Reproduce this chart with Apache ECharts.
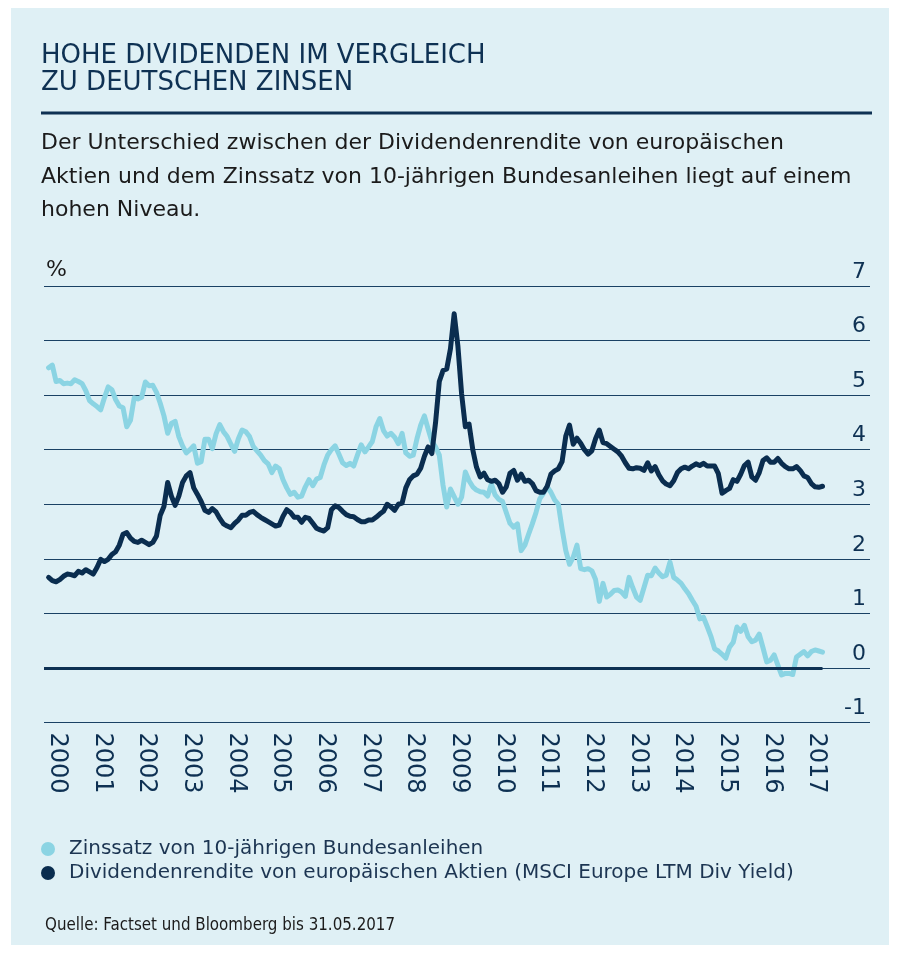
<!DOCTYPE html>
<html><head><meta charset="utf-8">
<script src="https://cdn.jsdelivr.net/npm/echarts@6/dist/echarts.min.js"></script>
<style>
html,body{margin:0;padding:0;background:#ffffff;}
#panel{position:absolute;left:11px;top:8px;width:878px;height:937px;background:#dff0f5;}
#c{position:absolute;left:0;top:0;width:901px;height:953px;}
</style>
</head><body><div id="panel"></div><div id="c"></div>
<script>
// monthly values (month-end), starting January 2000, ending May 2017
const startYear = 2000;
const bundYield = [
5.50,5.55,5.25,5.27,5.21,5.22,5.21,5.28,5.25,5.21,5.08,4.90,
4.84,4.79,4.73,4.95,5.15,5.10,4.92,4.80,4.77,4.42,4.54,4.95,
4.93,4.96,5.24,5.17,5.18,5.05,4.85,4.62,4.30,4.48,4.52,4.24,
4.07,3.94,4.00,4.07,3.75,3.78,4.19,4.19,4.02,4.29,4.46,4.33,
4.24,4.10,3.97,4.20,4.36,4.33,4.24,4.06,3.98,3.90,3.80,3.74,
3.58,3.70,3.65,3.45,3.30,3.18,3.22,3.13,3.15,3.32,3.45,3.34,
3.46,3.49,3.72,3.90,4.00,4.07,3.92,3.76,3.71,3.75,3.70,3.90,
4.09,3.96,4.05,4.15,4.42,4.57,4.35,4.25,4.30,4.23,4.11,4.30,
3.94,3.88,3.90,4.20,4.45,4.62,4.38,4.15,4.05,3.90,3.35,2.95,
3.28,3.14,3.00,3.13,3.59,3.43,3.32,3.26,3.23,3.22,3.15,3.37,
3.17,3.09,3.05,2.85,2.65,2.58,2.64,2.15,2.25,2.45,2.64,2.85,
3.10,3.20,3.32,3.22,3.08,3.00,2.55,2.15,1.90,2.03,2.25,1.82,
1.80,1.82,1.78,1.62,1.22,1.55,1.30,1.35,1.42,1.43,1.39,1.31,
1.66,1.47,1.30,1.24,1.47,1.70,1.69,1.83,1.74,1.67,1.70,1.94,
1.66,1.61,1.55,1.45,1.36,1.24,1.13,0.90,0.93,0.76,0.58,0.35,
0.31,0.25,0.18,0.38,0.47,0.75,0.67,0.78,0.57,0.48,0.51,0.62,
0.37,0.11,0.14,0.24,0.05,-0.13,-0.10,-0.10,-0.12,0.20,0.25,0.30,
0.22,0.30,0.33,0.31,0.29
];
const divYield = [
1.66,1.60,1.58,1.62,1.68,1.72,1.71,1.69,1.77,1.74,1.80,1.76,
1.72,1.84,1.99,1.95,1.99,2.08,2.13,2.25,2.45,2.48,2.38,2.32,
2.30,2.34,2.30,2.26,2.30,2.42,2.80,2.96,3.40,3.15,2.98,3.15,
3.40,3.52,3.58,3.30,3.18,3.05,2.89,2.85,2.92,2.86,2.74,2.64,
2.60,2.57,2.65,2.71,2.80,2.80,2.85,2.87,2.81,2.76,2.72,2.68,
2.64,2.60,2.62,2.78,2.90,2.85,2.76,2.76,2.67,2.76,2.74,2.65,
2.56,2.53,2.51,2.57,2.90,2.97,2.94,2.87,2.81,2.78,2.77,2.72,
2.68,2.68,2.71,2.71,2.76,2.82,2.87,3.00,2.95,2.89,3.00,3.02,
3.30,3.45,3.52,3.55,3.66,3.88,4.05,3.93,4.50,5.25,5.45,5.48,
5.85,6.49,5.90,5.02,4.42,4.47,4.00,3.68,3.50,3.57,3.45,3.42,
3.44,3.38,3.22,3.32,3.57,3.62,3.44,3.55,3.42,3.44,3.38,3.25,
3.22,3.22,3.33,3.55,3.61,3.65,3.78,4.25,4.45,4.10,4.21,4.12,
4.00,3.92,3.98,4.20,4.36,4.13,4.11,4.06,4.01,3.96,3.88,3.76,
3.66,3.65,3.67,3.66,3.62,3.76,3.61,3.69,3.54,3.43,3.37,3.34,
3.43,3.58,3.65,3.68,3.65,3.70,3.74,3.71,3.75,3.70,3.70,3.70,
3.56,3.20,3.25,3.29,3.45,3.42,3.55,3.71,3.77,3.50,3.44,3.58,
3.80,3.85,3.77,3.77,3.84,3.75,3.69,3.65,3.65,3.69,3.62,3.52,
3.49,3.38,3.32,3.31,3.33
];
const yearLabels = [2000,2001,2002,2003,2004,2005,2006,2007,2008,2009,2010,2011,2012,2013,2014,2015,2016,2017];
const yMin = -1, yMax = 7;
const seriesNames = ['Zinssatz von 10-jährigen Bundesanleihen','Dividendenrendite von europäischen Aktien (MSCI Europe LTM Div Yield)'];
const titleText = 'HOHE DIVIDENDEN IM VERGLEICH\nZU DEUTSCHEN ZINSEN';
const subtitleText = 'Der Unterschied zwischen der Dividendenrendite von europäischen\nAktien und dem Zinssatz von 10-jährigen Bundesanleihen liegt auf einem\nhohen Niveau.';
const sourceText = 'Quelle: Factset und Bloomberg bis 31.05.2017';

const monthX = i => startYear + (i + 1) / 12;
const bundData = bundYield.map((v, i) => [monthX(i), v]);
const divData = divYield.map((v, i) => [monthX(i), v]);
const xMin = 1999.98, xMax = 2018.48;
const lastX = monthX(divYield.length - 1);

const NAVY = '#0e3153';
const LIGHT = '#8bd4e3';
const FONT = '"DejaVu Sans", sans-serif';

const chart = echarts.init(document.getElementById('c'), null, {renderer: 'canvas'});
chart.setOption({
  animation: false,
  backgroundColor: 'transparent',
  grid: {left: 44, right: 31, top: 286, bottom: 230.5, containLabel: false},
  xAxis: [
    {type: 'value', min: xMin, max: xMax, show: false},
    {type: 'value', min: 1999.7, max: 2018.2, interval: 0.1, position: 'bottom',
     axisLine: {show: false}, axisTick: {show: false}, splitLine: {show: false},
     axisLabel: {rotate: -90, margin: 10, fontSize: 24, color: NAVY, fontFamily: FONT,
       showMinLabel: false, showMaxLabel: false,
       formatter: v => { const r = Math.round(v); return (Math.abs(v - r) < 1e-6 && yearLabels.indexOf(r) >= 0) ? String(r) : ''; }}}
  ],
  yAxis: {type: 'value', min: yMin, max: yMax, interval: 1, position: 'right',
    axisLine: {show: false}, axisTick: {show: false},
    splitLine: {lineStyle: {color: '#1a4164', width: 1}},
    axisLabel: {inside: true, margin: 4, verticalAlign: 'bottom', padding: [0, 0, 3, 0],
      fontSize: 22, color: NAVY, fontFamily: FONT}},
  legend: {orient: 'vertical', left: 36, top: 834, itemGap: 4, icon: 'circle', itemWidth: 14, itemHeight: 14,
    textStyle: {fontSize: 20, lineHeight: 17, color: '#1c3552', fontFamily: FONT, padding: [0, 0, 0, 9]},
    data: seriesNames},
  series: [
    {name: seriesNames[0], type: 'line', xAxisIndex: 0, data: bundData, showSymbol: false, symbol: 'none',
     color: LIGHT, lineStyle: {width: 5, color: LIGHT, cap: 'round', join: 'round'}, z: 3,
     markLine: {silent: true, symbol: 'none', label: {show: false},
       lineStyle: {color: NAVY, width: 3, type: 'solid'},
       data: [[{coord: [xMin, 0]}, {coord: [lastX, 0]}]]}},
    {name: seriesNames[1], type: 'line', xAxisIndex: 0, data: divData, showSymbol: false, symbol: 'none',
     color: '#0a2d4f', lineStyle: {width: 5, color: '#0a2d4f', cap: 'round', join: 'round'}, z: 4}
  ],
  graphic: [
    {type: 'text', left: 41, top: 43, style: {text: titleText, font: '26px ' + FONT, fill: NAVY, lineHeight: 27}},
    {type: 'rect', shape: {x: 41, y: 111.5, width: 831, height: 3}, style: {fill: NAVY}},
    {type: 'text', left: 41, top: 127, style: {text: subtitleText, font: '22px ' + FONT, fill: '#1b1b1b', lineHeight: 33.5}},
    {type: 'text', left: 46, top: 259, style: {text: '%', font: '22px ' + FONT, fill: '#1b1b1b'}},
    {type: 'text', left: 45, top: 917, style: {text: sourceText, font: '16.8px "Liberation Sans Narrow", "DejaVu Sans Condensed", sans-serif', fill: '#1b1b1b'}}
  ]
});
</script></body></html>
